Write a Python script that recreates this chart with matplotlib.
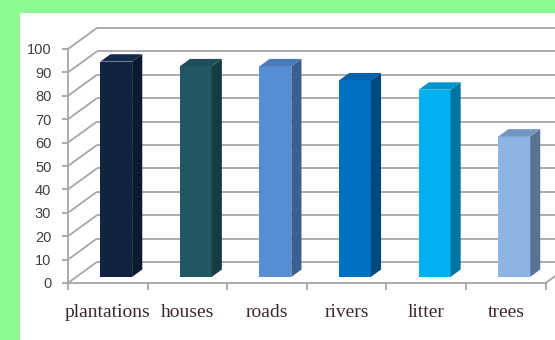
import matplotlib.pyplot as plt
from matplotlib.patches import Polygon

# data
categories = ["plantations", "houses", "roads", "rivers", "litter", "trees"]
values = [92, 90, 90, 84, 80, 60]
y_ticks = list(range(0, 101, 10))

front_colors = ["#11233F", "#215763", "#558ED5", "#0070C0", "#00B0F0", "#8EB4E3"]
side_colors = ["#0B1A2E", "#163B43", "#3A5F91", "#004A80", "#0074A0", "#5A7394"]
top_colors = ["#152B4D", "#1D4E59", "#4A7BB9", "#0063AA", "#0095CC", "#7596C0"]

# oblique "3D" depth vector in data units (categories, value units)
DX, DY = 0.364, 9.0
Z0, Z1 = 0.29, 0.64   # bar depth span as a fraction of the floor depth
W = 0.40              # bar width in category units

W_PX, H_PX = 555, 340
fig = plt.figure(figsize=(W_PX / 100, H_PX / 100), dpi=100)
fig.patch.set_facecolor("#8DFA92")

# white chart panel
ax = fig.add_axes([20 / W_PX, 0, 535 / W_PX, (H_PX - 13) / H_PX])
ax.set_facecolor("white")

# pixel layout of the front plane: x=0 at px 68, 79.6 px per category;
# y=0 at px 283, 2.34 px per unit
px_cat, px_val = 79.6, 2.34
ax.set_xlim((20 - 68) / px_cat, (555 - 68) / px_cat)
ax.set_ylim(-(340 - 283) / px_val, (283 - 13) / px_val)

n = len(categories)
grid_kw = dict(color="#A6A6A6", lw=1.3, zorder=1, solid_capstyle="butt")

# side wall diagonals and back wall gridlines
x_right = ax.get_xlim()[1]
for t in y_ticks:
    ax.plot([0, DX], [t, t + DY], **grid_kw)
    ax.plot([DX, x_right], [t + DY, t + DY], **grid_kw)

# floor right edge
ax.plot([n, n + DX], [0, DY], **grid_kw)


def depth(x, y, z):
    return (x + z * DX, y + z * DY)


for i, v in enumerate(values):
    left, right = i + 0.5 - W / 2, i + 0.5 + W / 2
    fx, fy = depth(left, 0, Z0)
    ax.bar(fx, v, width=W, bottom=fy, align="edge",
           color=front_colors[i], zorder=3, linewidth=0)
    side = [depth(right, 0, Z0), depth(right, v, Z0),
            depth(right, v, Z1), depth(right, 0, Z1)]
    ax.add_patch(Polygon(side, closed=True, facecolor=side_colors[i],
                         edgecolor="none", zorder=3))
    top = [depth(left, v, Z0), depth(right, v, Z0),
           depth(right, v, Z1), depth(left, v, Z1)]
    ax.add_patch(Polygon(top, closed=True, facecolor=top_colors[i],
                         edgecolor="none", zorder=3))

# front axes
for s in ["top", "right"]:
    ax.spines[s].set_visible(False)
ax.spines["left"].set_position(("data", 0))
ax.spines["left"].set_bounds(0, 100)
ax.spines["bottom"].set_position(("data", 0))
ax.spines["bottom"].set_bounds(0, n)
for s in ["left", "bottom"]:
    ax.spines[s].set_color("#A6A6A6")
    ax.spines[s].set_linewidth(1.3)
    ax.spines[s].set_zorder(4)

ax.set_yticks(y_ticks)
ax.set_yticklabels([str(t) for t in y_ticks], fontfamily="Liberation Sans",
                   fontsize=10.5, color="#404040")
ax.tick_params(axis="y", direction="out", length=4, width=1.3,
               color="#A6A6A6", pad=8)

ax.set_xticks([i + 0.5 for i in range(n)])
ax.set_xticklabels(categories, fontfamily="Liberation Serif", fontsize=14,
                   color="#3B2B2B")
ax.tick_params(axis="x", which="major", length=0, pad=15)
ax.set_xticks(range(n + 1), minor=True)
ax.tick_params(axis="x", which="minor", direction="out", length=5,
               width=1.3, color="#A6A6A6")

fig.savefig("out.png", dpi=100, facecolor=fig.get_facecolor())
